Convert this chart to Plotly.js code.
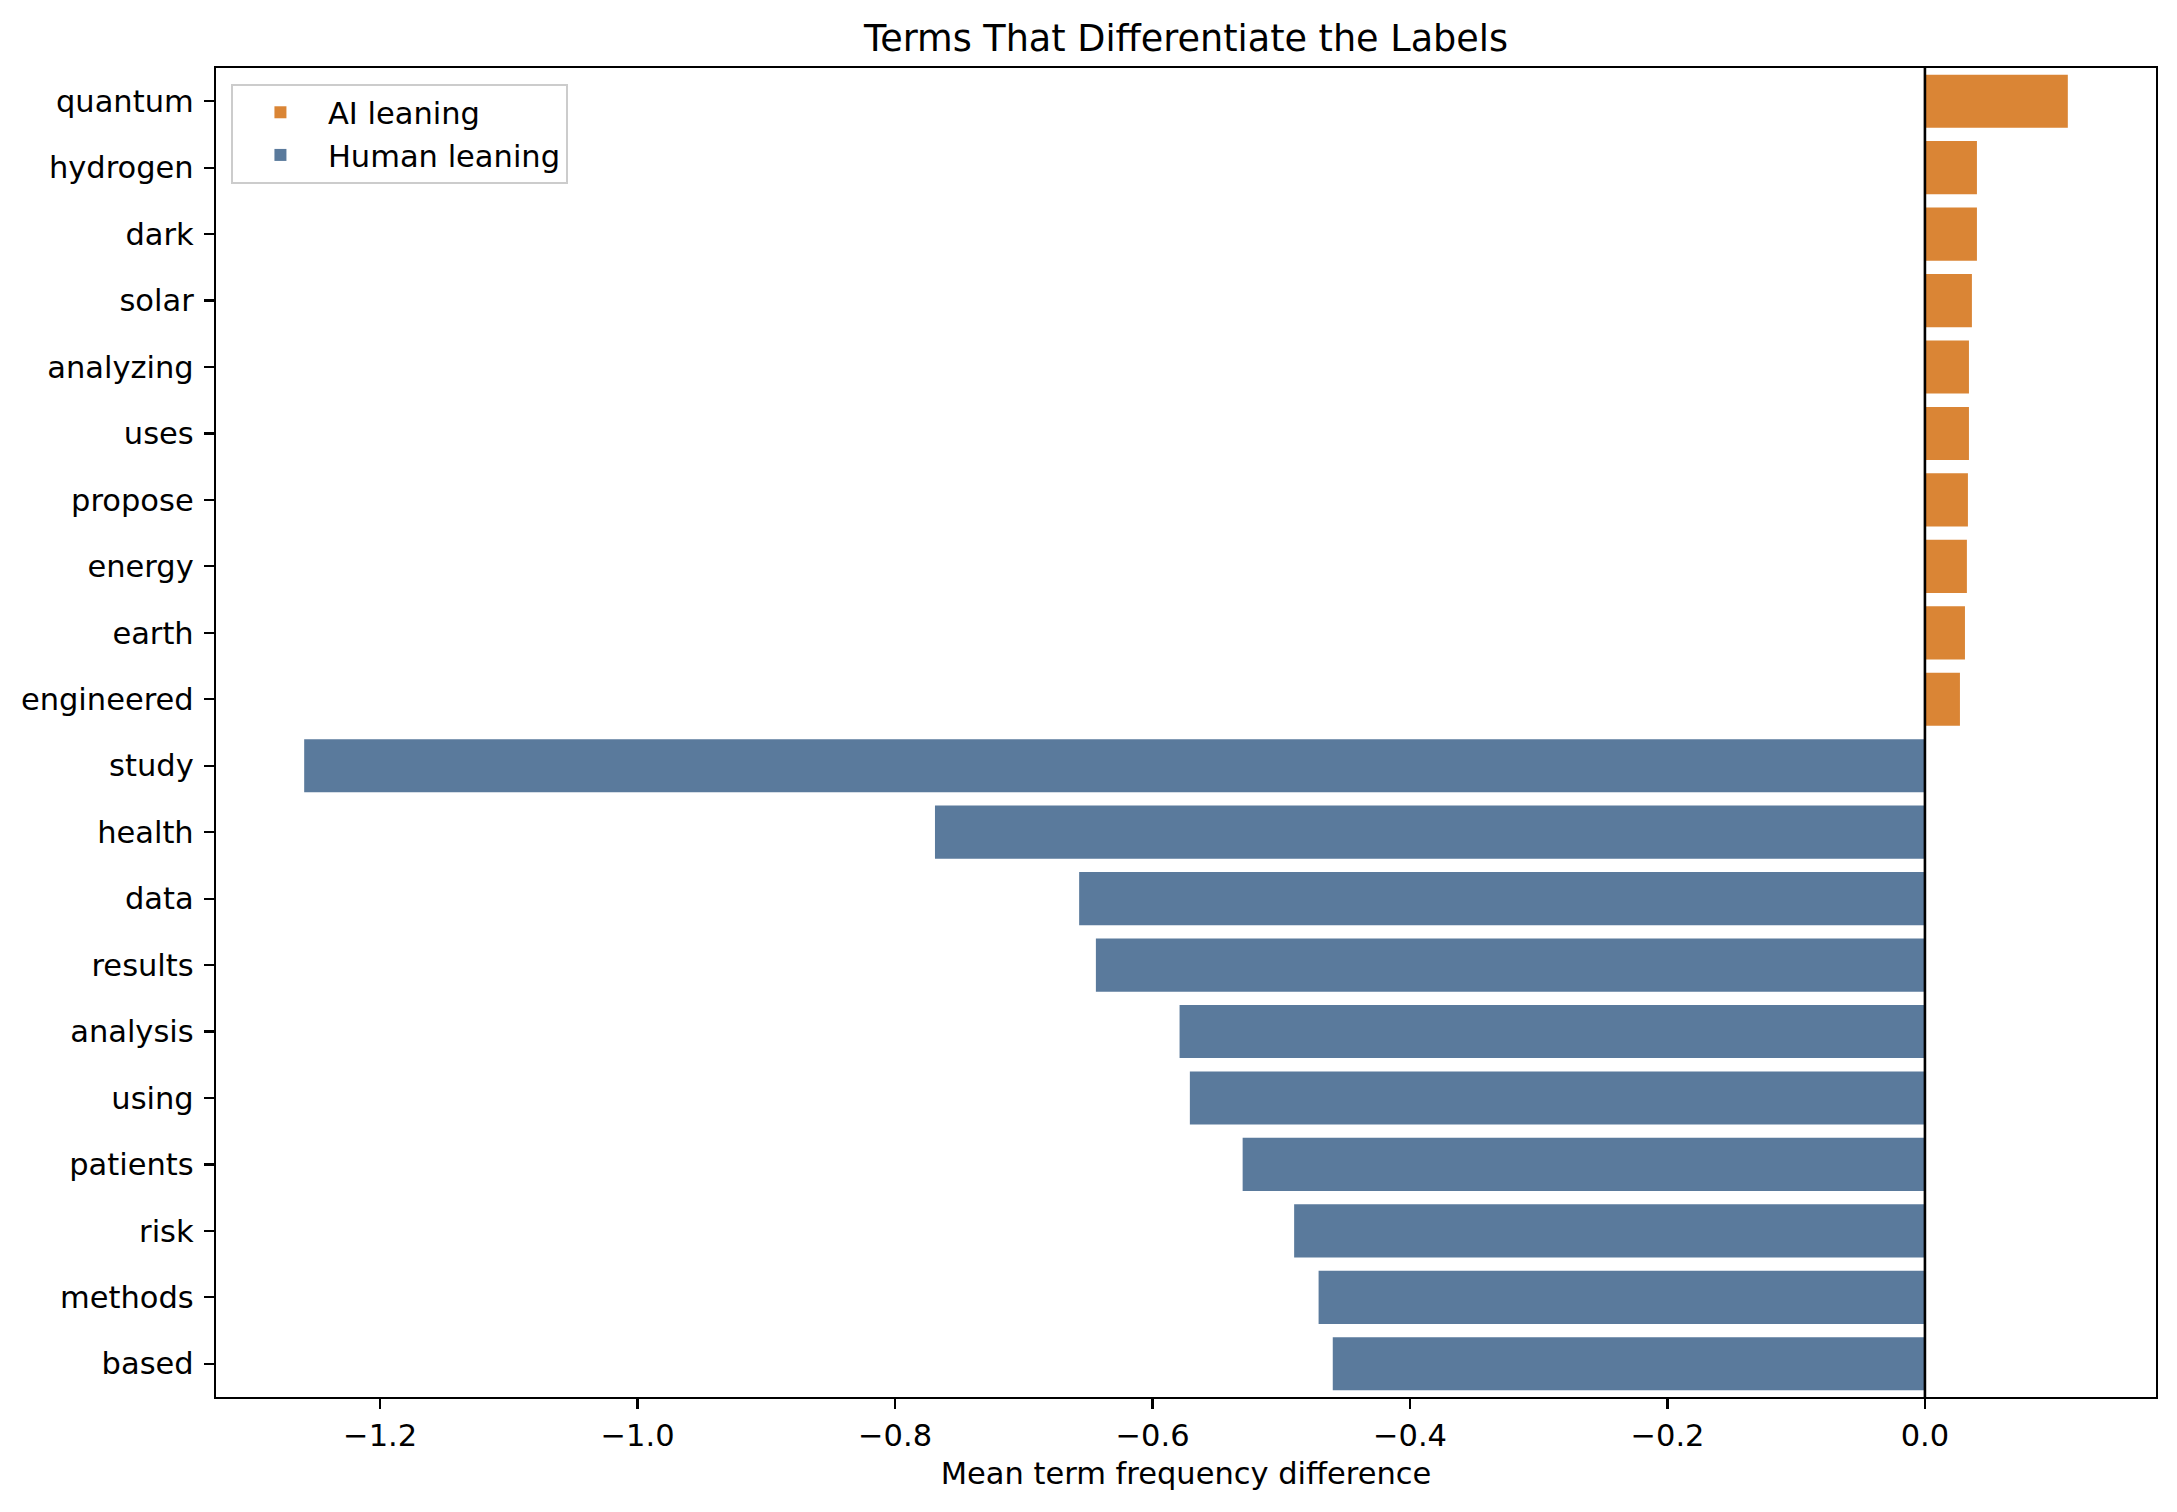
<!DOCTYPE html>
<html>
<head>
<meta charset="utf-8">
<script src="https://cdn.plot.ly/plotly-3.0.1.min.js"></script>
<style>html,body{margin:0;padding:0;background:#fff;}#chart{width:2177px;height:1512px;}</style>
</head>
<body>
<div id="chart"></div>
<script>
// Term order, top to bottom
const terms = ["quantum","hydrogen","dark","solar","analyzing","uses","propose","energy","earth","engineered",
               "study","health","data","results","analysis","using","patients","risk","methods","based"];

const aiTerms = ["quantum","hydrogen","dark","solar","analyzing","uses","propose","energy","earth","engineered"];
const aiValues = [0.111, 0.0404, 0.0404, 0.0365, 0.0342, 0.0342, 0.0334, 0.0326, 0.0311, 0.0272];

const humanTerms = ["study","health","data","results","analysis","using","patients","risk","methods","based"];
const humanValues = [-1.259, -0.769, -0.657, -0.644, -0.579, -0.571, -0.530, -0.490, -0.471, -0.460];

const xTickVals = [-1.2, -1.0, -0.8, -0.6, -0.4, -0.2, 0.0];

const FONT = "DejaVu Sans, Liberation Sans, sans-serif";
const FS = 30.5;

const traces = [
  {
    type: "bar", orientation: "h", name: "AI leaning", legendgroup: "ai",
    x: aiValues, y: aiTerms, width: 0.8,
    marker: {color: "#DA8535", line: {width: 0}},
    hoverinfo: "x+y"
  },
  {
    type: "bar", orientation: "h", name: "Human leaning", legendgroup: "human",
    x: humanValues, y: humanTerms, width: 0.8,
    marker: {color: "#5A7A9C", line: {width: 0}},
    hoverinfo: "x+y"
  }
];

const allVals = aiValues.concat(humanValues);
const vmin = Math.min(...allVals), vmax = Math.max(...allVals);
const pad = 0.05 * (vmax - vmin);

const layout = {
  width: 2177, height: 1512,
  paper_bgcolor: "#fff", plot_bgcolor: "#fff",
  margin: {l: 216, r: 21, t: 68, b: 115, pad: 0},
  barmode: "relative",
  bargap: 0.2,
  showlegend: true,
  font: {family: FONT, size: FS, color: "#000"},
  title: {
    text: "Terms That Differentiate the Labels",
    font: {family: FONT, size: 36.6, color: "#000"},
    x: 0.5, xref: "paper", xanchor: "center",
    y: 1 - 38/1512, yref: "container", yanchor: "middle"
  },
  xaxis: {
    range: [vmin - pad, vmax + pad],
    tickvals: xTickVals,
    tickformat: ".1f",
    ticks: "outside", ticklen: 10, tickwidth: 2.2, tickcolor: "#000",
    showline: true, linecolor: "#000", linewidth: 2.2, mirror: true,
    showgrid: false,
    zeroline: false,
    tickfont: {family: FONT, size: FS, color: "#000"},
    title: {text: "Mean term frequency difference", font: {family: FONT, size: FS, color: "#000"}, standoff: 11},
    fixedrange: true
  },
  yaxis: {
    type: "category",
    categoryorder: "array", categoryarray: terms,
    range: [terms.length - 0.5, -0.5],
    ticks: "outside", ticklen: 10, tickwidth: 2.2, tickcolor: "#000",
    showline: true, linecolor: "#000", linewidth: 2.2, mirror: true,
    showgrid: false, zeroline: false,
    tickfont: {family: FONT, size: FS, color: "#000"},
    ticklabelstandoff: 4,
    fixedrange: true
  },
  shapes: [
    {type: "line", xref: "x", yref: "paper", x0: 0, x1: 0, y0: 0, y1: 1,
     line: {color: "#000", width: 2.6}, layer: "above"}
  ],
  legend: {
    x: 0.0077, y: 0.988, xanchor: "left", yanchor: "top",
    bgcolor: "rgba(255,255,255,0.8)", bordercolor: "#cccccc", borderwidth: 2,
    font: {family: FONT, size: FS, color: "#000"},
    itemwidth: 85, tracegroupgap: 0
  }
};

Plotly.newPlot("chart", traces, layout, {displayModeBar: false, staticPlot: true});
</script>
</body>
</html>
